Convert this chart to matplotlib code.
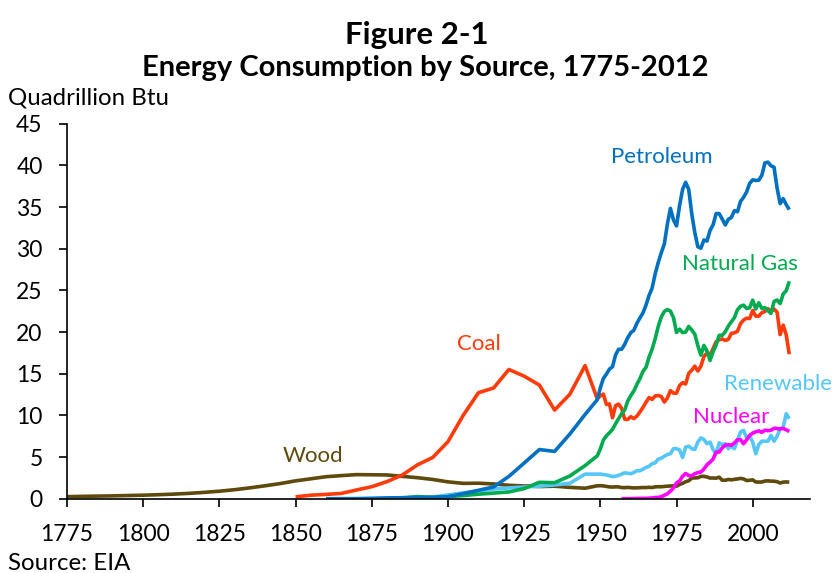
import matplotlib
matplotlib.use("Agg")
import matplotlib.pyplot as plt

# ---------------- data (quadrillion Btu) ----------------
hist5 = lambda a, b: list(range(a, b + 1, 5))
annual = list(range(1949, 2013))

wood_years = hist5(1775, 1945) + annual
wood = [0.25, 0.28, 0.31, 0.34, 0.38, 0.42, 0.48, 0.55, 0.64, 0.76,
        0.90, 1.08, 1.30, 1.55, 1.82, 2.14, 2.39, 2.64, 2.77, 2.89,
        2.87, 2.85, 2.68, 2.52, 2.31, 2.02, 1.84, 1.86, 1.77, 1.61,
        1.53, 1.46, 1.50, 1.36, 1.26,
        1.549, 1.562, 1.535, 1.474, 1.419, 1.394, 1.424, 1.416, 1.334, 1.323,
        1.353, 1.320, 1.295, 1.300, 1.323, 1.337, 1.335, 1.369, 1.340, 1.419,
        1.440, 1.429, 1.472, 1.503, 1.527, 1.538, 1.497, 1.711, 1.838, 2.038,
        2.152, 2.476, 2.496, 2.510, 2.684, 2.679, 2.604, 2.478, 2.483, 2.461,
        2.585, 2.216, 2.214, 2.313, 2.260, 2.324, 2.370, 2.437, 2.371, 2.184,
        2.214, 2.262, 2.006, 1.995, 2.002, 2.121, 2.136, 2.109, 2.098, 2.044,
        1.881, 1.989, 2.011, 1.990]

coal_years = hist5(1850, 1945) + annual
coal = [0.219, 0.421, 0.518, 0.632, 1.048, 1.440, 2.054, 2.840, 4.062, 4.950,
        6.841, 10.001, 12.714, 13.294, 15.504, 14.706, 13.639, 10.634, 12.535, 15.972,
        11.981, 12.347, 12.553, 11.306, 11.373, 9.715, 11.167, 11.350, 10.821, 9.533,
        9.518, 9.838, 9.623, 9.906, 10.413, 10.964, 11.581, 12.143, 11.914, 12.331,
        12.382, 12.265, 11.598, 12.077, 12.971, 12.663, 12.663, 13.584, 13.922, 13.766,
        15.040, 15.423, 15.908, 15.322, 15.894, 17.071, 17.478, 17.260, 18.008, 18.846,
        19.070, 19.173, 18.992, 19.122, 19.835, 19.909, 20.089, 21.002, 21.445, 21.656,
        21.623, 22.580, 21.914, 21.904, 22.321, 22.466, 22.797, 22.447, 22.749, 22.385,
        19.692, 20.834, 19.658, 17.337]

petro_years = hist5(1860, 1945) + annual
petroleum = [0.003, 0.006, 0.011, 0.05, 0.096, 0.12, 0.156, 0.168, 0.229, 0.61,
             1.007, 1.418, 2.676, 4.28, 5.895, 5.675, 7.76, 10.11,
             11.883, 13.315, 14.428, 14.956, 15.556, 15.839, 17.255, 17.937, 17.932, 18.527,
             19.323, 19.919, 20.216, 21.049, 21.701, 22.301, 23.246, 24.401, 25.284, 26.979,
             28.338, 29.521, 30.561, 32.947, 34.840, 33.455, 32.731, 35.175, 37.122, 37.965,
             37.123, 34.202, 31.931, 30.232, 30.054, 31.051, 30.922, 32.196, 32.865, 34.222,
             34.211, 33.552, 32.846, 33.525, 33.744, 34.561, 34.438, 35.675, 36.159, 36.816,
             37.838, 38.262, 38.186, 38.224, 38.808, 40.292, 40.388, 39.955, 39.774, 37.280,
             35.403, 36.010, 35.283, 34.694]

gas_years = hist5(1885, 1945) + annual
natural_gas = [0.082, 0.257, 0.147, 0.252, 0.372, 0.540, 0.673, 0.813, 1.212, 1.969,
               1.919, 2.726, 3.973,
               5.145, 5.968, 7.049, 7.550, 7.907, 8.330, 9.002, 9.613, 10.191, 10.663,
               11.717, 12.385, 12.926, 13.731, 14.403, 15.288, 15.769, 16.995, 17.945, 19.210,
               20.678, 21.795, 22.469, 22.698, 22.512, 21.732, 19.948, 20.345, 19.931, 20.000,
               20.666, 20.235, 19.747, 18.356, 17.221, 18.394, 17.703, 16.591, 17.640, 18.448,
               19.602, 19.603, 20.033, 20.714, 21.229, 21.728, 22.671, 23.085, 23.223, 22.830,
               22.909, 23.824, 22.773, 23.510, 22.831, 22.923, 22.565, 22.239, 23.663, 23.843,
               23.416, 24.575, 24.955, 26.089]

nuclear_years = list(range(1957, 2013))
nuclear = [0.000, 0.002, 0.002, 0.006, 0.020, 0.026, 0.038, 0.040, 0.043, 0.064,
           0.088, 0.142, 0.154, 0.239, 0.413, 0.584, 0.910, 1.272, 1.900, 2.111,
           2.702, 3.024, 2.776, 2.739, 3.008, 3.131, 3.203, 3.553, 4.076, 4.380,
           4.754, 5.587, 5.602, 6.104, 6.422, 6.479, 6.410, 6.694, 7.075, 7.087,
           6.597, 7.068, 7.610, 7.862, 8.029, 8.145, 7.960, 8.222, 8.161, 8.215,
           8.455, 8.427, 8.356, 8.434, 8.269, 8.062]

renew_years = hist5(1890, 1945) + annual
renewable = [0.05, 0.20, 0.45, 0.70, 0.92, 1.15, 1.30, 1.40, 1.50, 1.65, 1.85, 2.95,
             2.95, 2.95, 2.90, 2.85, 2.75, 2.65, 2.70, 2.80, 2.95, 3.10,
             3.05, 3.00, 3.15, 3.35, 3.35, 3.55, 3.75, 3.90, 4.20, 4.30,
             4.75, 4.85, 5.10, 5.30, 5.40, 6.00, 6.00, 5.85, 4.95, 6.20,
             6.30, 6.00, 5.90, 6.80, 7.30, 7.10, 6.60, 6.80, 5.90, 5.40,
             6.70, 6.50, 6.60, 6.00, 6.30, 6.00, 7.00, 8.00, 8.20, 7.30,
             7.50, 6.80, 5.40, 6.50, 6.90, 6.90, 6.90, 7.60, 6.90, 7.50,
             8.40, 8.60, 10.20, 9.60]

x_ticks = [1775, 1800, 1825, 1850, 1875, 1900, 1925, 1950, 1975, 2000]
y_ticks = [0, 5, 10, 15, 20, 25, 30, 35, 40, 45]

# ---------------- style ----------------
FONT = ['Lato', 'DejaVu Sans']
plt.rcParams['font.family'] = FONT

W, H = 836, 573
fig = plt.figure(figsize=(W / 100, H / 100), dpi=100)
ax_l, ax_r, ax_b, ax_t = 67, 810, 498.7, 123.7
ax = fig.add_axes([ax_l / W, 1 - ax_b / H, (ax_r - ax_l) / W, (ax_b - ax_t) / H])

series = [
    ("Wood", wood_years, wood, "#5E4A0C"),
    ("Renewable", renew_years, renewable, "#55C6F8"),
    ("Nuclear", nuclear_years, nuclear, "#FF00FF"),
    ("Coal", coal_years, coal, "#FF3B0A"),
    ("Natural Gas", gas_years, natural_gas, "#00AA4F"),
    ("Petroleum", petro_years, petroleum, "#0070C0"),
]
for name, xs, ys, col in series:
    ax.plot(xs, ys, color=col, lw=2.6, solid_joinstyle='round', solid_capstyle='butt')

ax.set_xlim(1775, 2018.8)
ax.set_ylim(0, 45)
ax.set_xticks(x_ticks)
ax.set_yticks(y_ticks)
ax.tick_params(axis='both', direction='out', colors='black', labelsize=16.5, width=1.2)
ax.tick_params(axis='x', length=6, pad=12.5)
ax.tick_params(axis='y', length=5.5, pad=12)
for s in ('top', 'right'):
    ax.spines[s].set_visible(False)
for s in ('left', 'bottom'):
    ax.spines[s].set_linewidth(1.2)

# series labels
labels = [
    ("Petroleum", 1970.2, 40.26, "#0070C0"),
    ("Natural Gas", 1995.8, 27.44, "#00AA4F"),
    ("Coal", 1910.2, 17.85, "#FF3B0A"),
    ("Renewable", 2008.3, 13.05, "#55C6F8"),
    ("Nuclear", 1992.8, 9.08, "#FF00FF"),
    ("Wood", 1855.6, 4.44, "#5E4A0C"),
]
for txt, lx, ly, col in labels:
    ax.text(lx, ly, txt, color=col, fontsize=16, ha='center', va='baseline', clip_on=False)

# titles and annotations
fig.text(417 / W, 1 - 44 / H, "Figure 2-1", ha='center', va='baseline',
         fontsize=22.5, fontweight='bold')
fig.text(425 / W, 1 - 76.5 / H, "Energy Consumption by Source, 1775-2012", ha='center',
         va='baseline', fontsize=21, fontweight='bold')
fig.text(8 / W, 1 - 104 / H, "Quadrillion Btu", ha='left', va='baseline', fontsize=17.3)
fig.text(8 / W, 1 - 570 / H, "Source: EIA", ha='left', va='baseline', fontsize=17.3)

fig.savefig("out.png", dpi=100, facecolor='white')
